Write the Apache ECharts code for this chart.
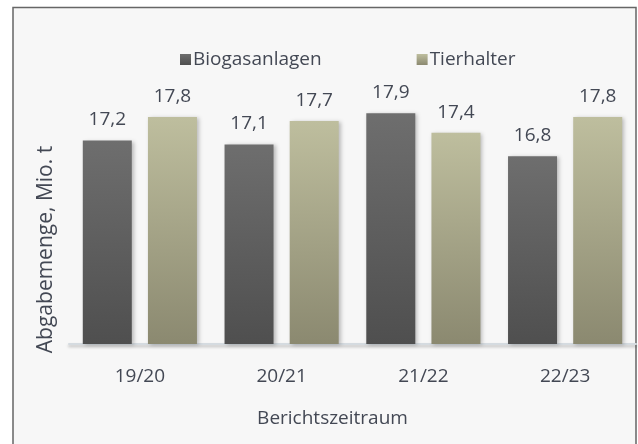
<!DOCTYPE html>
<html>
<head>
<meta charset="utf-8">
<title>Abgabemenge</title>
<script src="https://cdn.jsdelivr.net/npm/echarts@6/dist/echarts.min.js"></script>
<style type="text/css">
    html, body { margin: 0; padding: 0; background: #fff; }
    #chart { width: 638px; height: 444px; }
</style>
</head>
<body>
<div id="chart"></div>
<script>
// Werte aus der Grafik
var categories = ['19/20', '20/21', '21/22', '22/23'];
var biogas = [17.2, 17.1, 17.9, 16.8];
var tierhalter = [17.8, 17.7, 17.4, 17.8];
var seriesNames = ['Biogasanlagen', 'Tierhalter'];

var font = '"Open Sans", sans-serif';
var textColor = '#434854';

function grad(top, bottom) {
    return new echarts.graphic.LinearGradient(0, 0, 0, 1, [
        { offset: 0, color: top },
        { offset: 1, color: bottom }
    ]);
}

function fmt(p) {
    return p.value.toFixed(1).replace('.', ',');
}

var chart = echarts.init(document.getElementById('chart'));
chart.setOption({
    animation: false,
    backgroundColor: '#ffffff',
    textStyle: { fontFamily: font, color: textColor },
    graphic: [{
        type: 'rect',
        z: -10,
        silent: true,
        shape: { x: 13, y: 7.5, width: 623, height: 460 },
        style: { fill: '#f7f7f7', stroke: '#666', lineWidth: 1.5 }
    }],
    legend: {
        top: 45,
        left: 175,
        itemWidth: 11,
        itemHeight: 11,
        itemGap: 95,
        icon: 'rect',
        textStyle: { fontFamily: font, fontSize: 19, color: textColor, padding: [0, 0, 0, -3] },
        data: seriesNames
    },
    grid: { left: 69, right: 2, top: 31, bottom: 100 },
    xAxis: {
        type: 'category',
        data: categories,
        axisTick: { show: false },
        axisLine: { lineStyle: { color: '#d5dbe0', width: 2, shadowColor: 'rgba(0,0,0,0.25)', shadowBlur: 3, shadowOffsetY: 2 } },
        axisLabel: { fontSize: 19, color: textColor, margin: 23, fontFamily: font },
        name: 'Berichtszeitraum',
        nameLocation: 'middle',
        nameGap: 65,
        nameTextStyle: { fontSize: 19, color: textColor, fontFamily: font, padding: [0, 40, 0, 0] }
    },
    yAxis: {
        type: 'value',
        min: 12,
        max: 20,
        axisLine: { show: false },
        axisTick: { show: false },
        axisLabel: { show: false },
        splitLine: { show: false },
        name: 'Abgabemenge, Mio. t',
        nameLocation: 'middle',
        nameGap: 12,
        nameTextStyle: { fontSize: 21, color: textColor, fontFamily: font, padding: [0, 124, 0, 0] }
    },
    series: [{
        name: seriesNames[0],
        type: 'bar',
        data: biogas,
        barWidth: 49,
        barGap: '33%',
        itemStyle: {
            color: grad('#6e6e6e', '#4f4f4f'),
            shadowColor: 'rgba(0,0,0,0.25)', shadowBlur: 4, shadowOffsetX: 2, shadowOffsetY: 1
        },
        label: {
            show: true, position: 'top', distance: 11,
            fontSize: 19, color: textColor, fontFamily: font,
            formatter: fmt
        }
    }, {
        name: seriesNames[1],
        type: 'bar',
        data: tierhalter,
        barWidth: 49,
        itemStyle: {
            color: grad('#bebe9e', '#8b8970'),
            shadowColor: 'rgba(0,0,0,0.25)', shadowBlur: 4, shadowOffsetX: 2, shadowOffsetY: 1
        },
        label: {
            show: true, position: 'top', distance: 11,
            fontSize: 19, color: textColor, fontFamily: font,
            formatter: fmt
        }
    }]
});
window.onresize = chart.resize;
</script>
</body>
</html>
